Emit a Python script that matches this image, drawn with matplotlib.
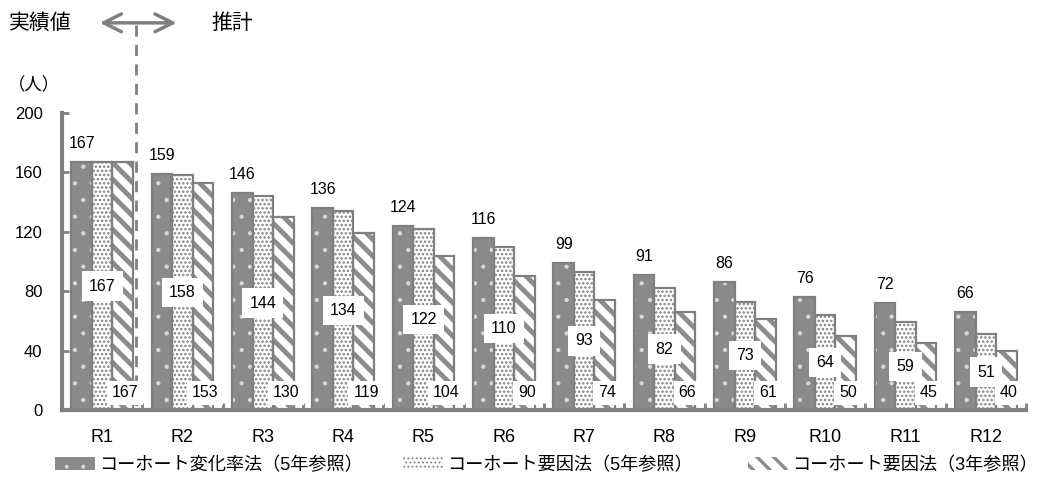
import numpy as np
import matplotlib
matplotlib.use("Agg")
import matplotlib.pyplot as plt
from matplotlib.patches import Patch
from matplotlib.lines import Line2D

plt.rcParams['font.family'] = ['Liberation Sans', 'Noto Sans CJK JP', 'DejaVu Sans']

categories = ['R1', 'R2', 'R3', 'R4', 'R5', 'R6', 'R7', 'R8', 'R9', 'R10', 'R11', 'R12']
cohort_change = [167, 159, 146, 136, 124, 116, 99, 91, 86, 76, 72, 66]
cohort_factor5 = [167, 158, 144, 134, 122, 110, 93, 82, 73, 64, 59, 51]
cohort_factor3 = [167, 153, 130, 119, 104, 90, 74, 66, 61, 50, 45, 40]
series_names = ['コーホート変化率法（5年参照）', 'コーホート要因法（5年参照）', 'コーホート要因法（3年参照）']
yticks = [0, 40, 80, 120, 160, 200]

edge = '#7f7f7f'
styles = [
    dict(face='#8a8a8a', hcol='#d9d9d9', hatch='.', hlw=0.6),
    dict(face='white', hcol='#808080', hatch='....', hlw=1.2),
    dict(face='white', hcol='#8c8c8c', hatch='\\\\', hlw=3.5),
]

fig = plt.figure(figsize=(10.43, 4.86), dpi=100)
ax = fig.add_axes([0.0594, 0.1564, 0.9243, 0.611])

x = np.arange(len(categories))
w = 0.255
data = [cohort_change, cohort_factor5, cohort_factor3]
handles = []
for k, (vals, st) in enumerate(zip(data, styles)):
    pos = x + (k - 1) * w
    with plt.rc_context({'hatch.linewidth': st['hlw']}):
        ax.bar(pos, vals, w, facecolor=st['face'], edgecolor=st['hcol'],
               hatch=st['hatch'], linewidth=0, zorder=2)
    ax.bar(pos, vals, w, fill=False, edgecolor=edge, linewidth=1.6, zorder=2.5)
    handles.append(Patch(facecolor=st['face'], edgecolor=st['hcol'],
                         hatch=st['hatch'], linewidth=0))

# value labels
for i in range(len(categories)):
    ax.annotate(str(cohort_change[i]), (x[i] - w, cohort_change[i]),
                xytext=(0, 8), textcoords='offset points',
                ha='center', va='bottom', fontsize=11.5, zorder=4)
    ax.text(x[i], cohort_factor5[i] / 2, str(cohort_factor5[i]),
            ha='center', va='center', fontsize=11.5, zorder=4,
            bbox=dict(boxstyle='square,pad=0.45', facecolor='white', edgecolor='none'))
    ax.text(x[i] + w + 0.03, 11.5, str(cohort_factor3[i]),
            ha='center', va='center', fontsize=11.5, zorder=4,
            bbox=dict(boxstyle='square,pad=0.3', facecolor='white', edgecolor='none'))

ax.set_xlim(-0.5, len(categories) - 0.5)
ax.set_ylim(0, 200)
ax.set_yticks(yticks)
ax.set_xticks(x)
ax.set_xticklabels(categories, fontsize=13)
ax.set_xticks(np.arange(len(categories) + 1) - 0.5, minor=True)
ax.tick_params(axis='x', which='major', length=0, pad=14)
ax.tick_params(axis='x', which='minor', direction='in', length=5, width=2, color=edge)
ax.tick_params(axis='y', direction='in', length=5, width=2, color=edge, labelsize=12, pad=14)
for s in ['top', 'right']:
    ax.spines[s].set_visible(False)
for s in ['left', 'bottom']:
    ax.spines[s].set_color(edge)
    ax.spines[s].set_linewidth(3)

fig.text(0.008, 0.825, '（人）', fontsize=12.5, va='center', ha='left')

# actual / forecast marker
fig.text(0.009, 0.953, '実績値', fontsize=15, va='center', ha='left')
fig.text(0.203, 0.953, '推計', fontsize=15, va='center', ha='left')
ax.annotate('', xy=(0.172, 0.953), xytext=(0.093, 0.953),
            xycoords='figure fraction', textcoords='figure fraction',
            arrowprops=dict(arrowstyle='<->', color='#808080', lw=2.5, mutation_scale=32))
ax.add_line(Line2D([0.1305, 0.1305], [0.948, 0.16], transform=fig.transFigure,
                   color='#808080', lw=2, linestyle=(0, (4, 3)), clip_on=False, zorder=1.5))

# legend, one entry per fixed column
legend_x = [0.0527, 0.3864, 0.717]
for h, name, lx, st in zip(handles, series_names, legend_x, styles):
    leg = fig.legend([h], [name], loc='center left', bbox_to_anchor=(lx, 0.043),
                     frameon=False, fontsize=13.1, handlelength=2.2, handleheight=0.75,
                     handletextpad=0.25, borderpad=0, borderaxespad=0)
    for p in leg.get_patches():
        p._hatch_linewidth = st['hlw'] * 0.7

fig.savefig('out.png', dpi=100)
